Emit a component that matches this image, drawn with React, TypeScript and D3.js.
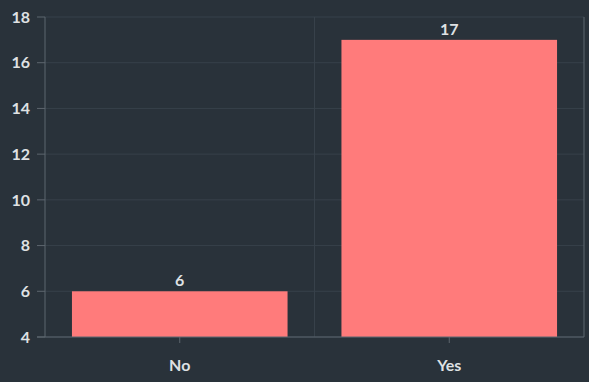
import React from "react";
import * as d3 from "d3";

const categories = ["No", "Yes"];
const values = [6, 17];
const yTicks = [4, 6, 8, 10, 12, 14, 16, 18];

const W = 589;
const H = 382;
const margin = { left: 45, right: 5, top: 17, bottom: 45 };

export default function App() {
  const x = d3
    .scaleBand<string>()
    .domain(categories)
    .range([margin.left, W - margin.right])
    .paddingInner(0.2)
    .paddingOuter(0.1);
  const y = d3.scaleLinear().domain([4, 18]).range([H - margin.bottom, margin.top]);
  const step = x.step();
  const bounds = [margin.left, margin.left + step, W - margin.right];
  const font = "Lato, 'Open Sans', sans-serif";
  const textColor = "#dfe1e3";
  const gridColor = "#37414a";
  const axisColor = "#5d666e";
  return (
    <div style={{ position: "fixed", left: 0, top: 0, width: W, height: H }}>
      <svg width={W} height={H} style={{ display: "block" }}>
        <rect x={0} y={0} width={W} height={H} fill="#29323a" />
        {yTicks.map((t) => (
          <g key={t}>
            <line x1={margin.left} x2={W - margin.right} y1={y(t)} y2={y(t)} stroke={gridColor} strokeWidth={1} />
            <line x1={37} x2={margin.left} y1={y(t)} y2={y(t)} stroke={axisColor} strokeWidth={1} />
            <text x={30} y={y(t)} dy="0.36em" textAnchor="end" fill={textColor} fontFamily={font} fontWeight={700} fontSize={16}>
              {t}
            </text>
          </g>
        ))}
        {bounds.map((b, i) => (
          <line key={i} x1={b} x2={b} y1={margin.top} y2={H - margin.bottom} stroke={i === 1 ? gridColor : axisColor} strokeWidth={1} />
        ))}
        {categories.map((c, i) => (
          <g key={c}>
            <rect x={x(c)} y={y(values[i])} width={x.bandwidth()} height={y(4) - y(values[i])} fill="#ff7b7b" />
            <text x={(x(c) as number) + x.bandwidth() / 2} y={y(values[i]) - 5} textAnchor="middle" fill={textColor} fontFamily={font} fontWeight={700} fontSize={16}>
              {values[i]}
            </text>
            <line x1={(x(c) as number) + x.bandwidth() / 2} x2={(x(c) as number) + x.bandwidth() / 2} y1={H - margin.bottom} y2={H - margin.bottom + 6} stroke={axisColor} />
            <text x={(x(c) as number) + x.bandwidth() / 2} y={371} textAnchor="middle" fill={textColor} fontFamily={font} fontWeight={700} fontSize={16}>
              {c}
            </text>
          </g>
        ))}
        <line x1={margin.left - 8} x2={W - margin.right} y1={H - margin.bottom} y2={H - margin.bottom} stroke={axisColor} strokeWidth={1} />
      </svg>
    </div>
  );
}
